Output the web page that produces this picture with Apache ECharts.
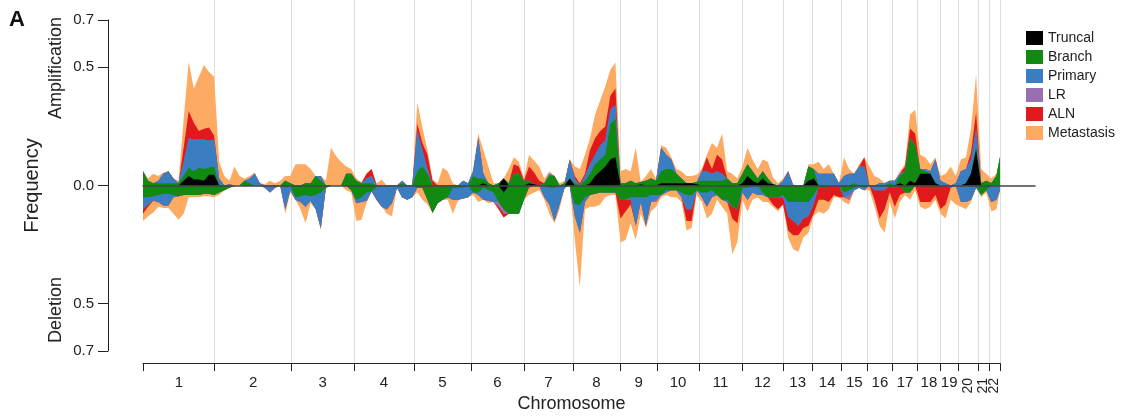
<!DOCTYPE html>
<html>
<head>
<meta charset="utf-8">
<title>Copy number frequency</title>
<script src="https://cdn.jsdelivr.net/npm/echarts@6/dist/echarts.min.js"></script>
<style>
  html, body { margin: 0; padding: 0; background: #fff; }
  #chart { width: 1121px; height: 418px; }
</style>
</head>
<body>
<div id="chart"></div>
<script>
const FONT = '"Liberation Sans", Arial, Helvetica, sans-serif'

// chromosome lengths as drawn (Mb), chr1..chr22
const chromNames = ['1', '2', '3', '4', '5', '6', '7', '8', '9', '10', '11',
  '12', '13', '14', '15', '16', '17', '18', '19', '20', '21', '22']
const chromLen = [240, 257, 209, 201, 190, 178, 164, 157, 125, 139, 145,
  136, 100, 97, 85, 86, 82, 78, 58, 67, 37, 37]
const binStep = 17 // Mb between samples
const yTicks = [-0.7, -0.5, 0, 0.5, 0.7]

// amplification frequency per sample, one layer per category
const truncalAmp = [
  0, 0, 0, 0, 0, 0, 0, 0, 0.02, 0.04,
  0.025, 0.025, 0.02, 0.045, 0.045, 0, 0, 0, 0, 0,
  0, 0, 0, 0, 0, 0, 0, 0, 0, 0,
  0, 0, 0, 0, 0, 0, 0, 0, 0, 0,
  0, 0, 0, 0, 0, 0, 0, 0, 0, 0,
  0, 0, 0, 0, 0, 0, 0, 0, 0, 0,
  0, 0, 0, 0, 0, 0, 0, 0.01, 0, 0,
  0, 0.03, 0, 0, 0, 0, 0.01, 0.005, 0, 0,
  0, 0, 0, 0, 0.03, 0, 0, 0, 0.01, 0.04,
  0.06, 0.08, 0.11, 0.12, 0, 0, 0, 0, 0.005, 0,
  0, 0, 0.01, 0.01, 0.01, 0.01, 0.01, 0.01, 0.01, 0.005,
  0, 0, 0, 0, 0, 0, 0, 0, 0.01, 0.04,
  0.02, 0.01, 0.03, 0.01, 0.005, 0, 0, 0, 0, 0,
  0, 0.02, 0.03, 0, 0, 0, 0, 0, 0, 0,
  0, 0, 0, 0, 0, 0, 0, 0, 0, 0.01,
  0, 0.02, 0.01, 0.05, 0.05, 0.05, 0.01, 0, 0, 0,
  0, 0, 0.01, 0.05, 0.15, 0, 0, 0, 0, 0
]
const branchAmp = [
  0.06, 0.02, 0.01, 0.01, 0.01, 0.01, 0.01, 0.01, 0.02, 0.035,
  0.035, 0.05, 0.05, 0.03, 0.035, 0, 0, 0, 0, 0,
  0.02, 0.01, 0, 0, 0, 0, 0, 0, 0.02, 0.01,
  0, 0, 0.01, 0.01, 0.04, 0.02, 0, 0, 0, 0,
  0.05, 0.05, 0.02, 0.01, 0.01, 0.01, 0, 0, 0, 0,
  0, 0.01, 0, 0, 0.06, 0.08, 0.05, 0, 0, 0,
  0, 0, 0, 0, 0, 0.04, 0.03, 0.02, 0.01, 0,
  0.01, 0, 0.01, 0.05, 0.05, 0.02, 0.01, 0, 0, 0.01,
  0.04, 0.04, 0, 0.01, 0, 0.01, 0, 0.02, 0.04, 0.05,
  0.05, 0.05, 0.15, 0.16, 0.01, 0.01, 0.02, 0.01, 0.01, 0.02,
  0.03, 0.02, 0.05, 0.06, 0.06, 0.04, 0.02, 0, 0, 0.01,
  0.02, 0.02, 0.02, 0.02, 0.02, 0.03, 0.01, 0.01, 0.04, 0.05,
  0.04, 0.02, 0.03, 0.02, 0, 0, 0, 0, 0, 0,
  0, 0.06, 0.04, 0, 0, 0, 0, 0, 0, 0,
  0.01, 0, 0, 0, 0, 0, 0, 0.01, 0, 0.03,
  0.06, 0.18, 0.16, 0.02, 0.01, 0, 0, 0, 0, 0,
  0, 0, 0, 0, 0.01, 0.01, 0.02, 0.01, 0.04, 0.12
]
const primaryAmp = [
  0, 0, 0, 0.01, 0.04, 0.05, 0.02, 0, 0.06, 0.125,
  0.135, 0.12, 0.125, 0.115, 0.115, 0.03, 0, 0.005, 0, 0,
  0, 0.02, 0.05, 0.01, 0, 0, 0, 0, 0, 0,
  0, 0, 0, 0, 0, 0.02, 0, 0, 0, 0,
  0, 0, 0, 0, 0.02, 0.03, 0, 0, 0, 0,
  0, 0.01, 0, 0, 0.17, 0.07, 0.02, 0, 0, 0,
  0, 0, 0, 0.02, 0.01, 0.02, 0.17, 0.02, 0, 0,
  0, 0, 0, 0, 0, 0, 0, 0, 0, 0,
  0.01, 0, 0, 0, 0.08, 0.02, 0, 0.02, 0.04, 0.04,
  0.06, 0.06, 0.06, 0.06, 0, 0, 0, 0, 0, 0,
  0, 0, 0.1, 0.06, 0.04, 0, 0, 0, 0, 0,
  0.04, 0.04, 0.03, 0.04, 0.03, 0, 0, 0, 0, 0,
  0, 0, 0, 0, 0, 0, 0.02, 0.06, 0, 0,
  0, 0, 0, 0.05, 0.05, 0.05, 0.05, 0.01, 0.04, 0.05,
  0.04, 0.08, 0.08, 0, 0, 0.01, 0.01, 0.01, 0.02, 0.01,
  0, 0, 0, 0, 0.01, 0.01, 0.1, 0.02, 0.01, 0,
  0.01, 0.06, 0.06, 0.06, 0.08, 0, 0, 0, 0, 0
]
const lrAmp = [
  0, 0, 0, 0, 0, 0, 0, 0, 0, 0,
  0, 0, 0, 0, 0, 0, 0, 0, 0, 0,
  0, 0, 0, 0, 0, 0, 0, 0, 0, 0,
  0, 0, 0, 0, 0, 0, 0, 0, 0, 0,
  0, 0, 0, 0, 0, 0, 0, 0, 0, 0,
  0, 0, 0, 0, 0, 0, 0, 0, 0, 0,
  0, 0, 0, 0, 0, 0, 0, 0, 0, 0,
  0, 0, 0, 0, 0, 0, 0, 0, 0, 0,
  0, 0, 0, 0, 0, 0, 0, 0, 0, 0,
  0, 0, 0, 0, 0, 0, 0, 0, 0, 0,
  0, 0, 0, 0, 0, 0, 0, 0, 0, 0,
  0, 0, 0, 0, 0, 0, 0, 0, 0, 0,
  0, 0, 0, 0, 0, 0, 0, 0, 0, 0,
  0, 0, 0, 0, 0, 0, 0, 0, 0, 0,
  0, 0, 0, 0, 0, 0, 0, 0, 0, 0,
  0, 0, 0, 0, 0, 0, 0, 0, 0, 0,
  0, 0, 0, 0, 0, 0, 0, 0, 0, 0
]
const alnAmp = [
  0, 0, 0, 0, 0, 0, 0, 0, 0.06, 0.115,
  0.07, 0.035, 0.045, 0.055, 0.015, 0, 0, 0, 0, 0,
  0, 0, 0, 0, 0, 0, 0, 0, 0, 0,
  0, 0, 0, 0, 0, 0, 0, 0, 0, 0,
  0, 0, 0, 0, 0.02, 0.03, 0, 0, 0, 0,
  0, 0, 0, 0, 0.03, 0.03, 0.06, 0.02, 0, 0,
  0, 0, 0, 0, 0, 0, 0, 0, 0, 0,
  0, 0, 0, 0.04, 0.03, 0, 0.06, 0.05, 0.02, 0,
  0, 0, 0, 0, 0, 0.01, 0.01, 0.01, 0.06, 0.07,
  0.06, 0.06, 0.06, 0.07, 0, 0, 0, 0, 0, 0,
  0, 0, 0, 0, 0, 0, 0, 0, 0, 0,
  0, 0.06, 0.02, 0.07, 0.06, 0, 0, 0, 0, 0,
  0, 0, 0, 0, 0, 0, 0, 0, 0, 0,
  0, 0, 0, 0, 0, 0, 0, 0, 0, 0,
  0, 0, 0.04, 0, 0, 0, 0, 0, 0, 0,
  0.02, 0.04, 0.05, 0, 0, 0, 0, 0, 0, 0,
  0, 0, 0, 0.03, 0.07, 0, 0, 0, 0, 0
]
const metAmp = [
  0, 0.01, 0.04, 0.02, 0.005, 0, 0, 0.01, 0.12, 0.21,
  0.145, 0.23, 0.27, 0.235, 0.25, 0.07, 0.04, 0.015, 0.08, 0.04,
  0.01, 0.01, 0.005, 0, 0.005, 0.02, 0.01, 0.02, 0.02, 0.03,
  0.09, 0.09, 0.08, 0.06, 0, 0, 0.02, 0.16, 0.125, 0.1,
  0.03, 0.02, 0.01, 0.005, 0, 0, 0.01, 0.025, 0, 0,
  0, 0, 0, 0, 0.09, 0.065, 0.02, 0.005, 0.01, 0.075,
  0.06, 0.01, 0, 0, 0, 0.01, 0.02, 0.1, 0.07, 0.01,
  0, 0, 0.06, 0.03, 0.02, 0.01, 0.05, 0.05, 0.06, 0.02,
  0.01, 0, 0.01, 0.01, 0, 0.04, 0.06, 0.08, 0.05, 0.1,
  0.13, 0.17, 0.11, 0.11, 0.05, 0.06, 0.04, 0.15, 0, 0.02,
  0.04, 0.01, 0.01, 0.03, 0.01, 0.02, 0.03, 0.03, 0.03, 0.03,
  0.01, 0.01, 0.11, 0.03, 0.11, 0.03, 0.04, 0.02, 0.03, 0.07,
  0.05, 0.04, 0.05, 0.07, 0.03, 0.01, 0.01, 0, 0.005, 0,
  0, 0.01, 0.02, 0.05, 0.02, 0.04, 0, 0, 0.08, 0.02,
  0, 0.01, 0, 0.08, 0.04, 0.02, 0, 0, 0, 0.01,
  0.01, 0.06, 0.1, 0.06, 0.05, 0.03, 0.01, 0.02, 0.04, 0.08,
  0.03, 0.05, 0.05, 0.1, 0.16, 0.06, 0.03, 0.02, 0.01, 0
]

// deletion frequency per sample (negative = drawn downwards)
const truncalDel = [
  0, 0, 0, 0, 0, 0, 0, 0, 0, 0,
  0, 0, 0, 0, 0, 0, 0, 0, 0, 0,
  0, 0, 0, 0, 0, 0, 0, 0, 0, 0,
  0, 0, 0, 0, 0, 0, 0, 0, 0, 0,
  0, 0, 0, 0, 0, 0, 0, 0, 0, 0,
  0, 0, 0, 0, 0, 0, 0, 0, 0, 0,
  0, 0, 0, 0, 0, 0, 0, 0, 0, 0,
  0, -0.03, 0, 0, 0, 0, 0, 0, 0, 0,
  0, 0, 0, 0, 0, 0, 0, 0, 0, 0,
  0, 0, 0, 0, 0, 0, 0, 0, 0, 0,
  0, 0, 0, 0, 0, 0, 0, 0, 0, 0,
  0, 0, 0, 0, 0, 0, 0, 0, 0, 0,
  0, 0, 0, 0, 0, 0, 0, 0, 0, 0,
  0, 0, 0, 0, 0, 0, 0, 0, 0, 0,
  0, 0, 0, 0, 0, 0, 0, 0, 0, 0,
  0, 0, 0, 0, 0, 0, 0, 0, 0, 0,
  0, 0, 0, 0, 0, 0, 0, 0, 0, 0
]
const branchDel = [
  -0.05, -0.05, -0.045, -0.04, -0.035, -0.035, -0.04, -0.045, -0.04, -0.04,
  -0.04, -0.04, -0.035, -0.035, -0.04, -0.03, -0.02, -0.01, 0, 0,
  0, 0, 0, 0, 0, 0, 0, 0, -0.01, 0,
  -0.05, -0.045, -0.04, -0.045, -0.04, -0.03, -0.01, 0, 0, 0,
  0, -0.02, -0.06, -0.05, -0.03, -0.025, -0.005, 0, 0, 0,
  0, 0, 0, 0, -0.01, -0.01, -0.06, -0.115, -0.075, -0.06,
  -0.05, -0.01, -0.01, -0.01, 0, -0.03, -0.03, -0.01, -0.02, -0.03,
  -0.07, -0.07, -0.12, -0.12, -0.12, -0.06, 0, 0, 0, 0,
  -0.01, -0.01, 0, 0, 0, -0.08, -0.08, -0.05, -0.04, -0.035,
  -0.03, -0.03, -0.03, -0.03, -0.06, -0.06, -0.05, -0.05, -0.05, -0.05,
  -0.04, -0.04, -0.04, -0.02, -0.02, -0.02, -0.03, -0.04, -0.04, -0.02,
  -0.03, -0.03, -0.02, -0.04, -0.06, -0.06, -0.09, -0.1, -0.01, -0.01,
  0, 0, -0.03, -0.05, -0.05, -0.05, -0.04, -0.07, -0.07, -0.07,
  -0.07, -0.07, -0.04, -0.01, -0.01, 0, 0, 0, -0.03, -0.02,
  -0.01, 0, -0.01, 0, 0, 0, 0, 0, -0.01, 0,
  -0.03, -0.03, 0, 0, 0, 0, 0, 0, 0, 0,
  0, 0, 0, 0, 0, -0.04, -0.02, 0, 0, 0
]
const primaryDel = [
  -0.05, -0.03, -0.02, -0.03, -0.05, -0.05, -0.01, 0, 0, 0,
  0, 0, 0, 0, 0, 0, 0, 0, 0, 0,
  0, 0, 0, 0, -0.01, -0.03, -0.01, 0, -0.09, -0.02,
  -0.01, -0.025, -0.05, -0.02, -0.06, -0.15, 0, 0, 0, 0,
  0, 0, -0.015, -0.02, -0.035, 0, -0.055, -0.09, -0.1, -0.075,
  -0.01, -0.05, -0.06, -0.05, 0, 0, 0, 0, 0, 0,
  0, -0.05, -0.05, -0.045, -0.05, 0, -0.01, -0.05, -0.045, -0.04,
  0, 0, 0, 0, 0, 0, 0, 0, 0, -0.05,
  -0.07, -0.14, -0.08, -0.01, 0, -0.05, -0.12, -0.02, 0, 0,
  0, 0, 0, 0, 0, 0, -0.01, -0.12, -0.02, -0.12,
  -0.03, -0.02, 0, -0.01, 0, 0, -0.02, -0.06, -0.06, 0,
  -0.02, -0.06, -0.03, 0, 0, -0.01, 0, 0, -0.02, -0.05,
  -0.03, -0.04, -0.01, 0, 0, 0, -0.01, -0.06, -0.08, -0.1,
  -0.07, -0.06, -0.04, 0, 0, 0, 0, 0, -0.02, -0.02,
  -0.01, -0.01, -0.01, 0, -0.02, -0.02, -0.02, 0, 0, 0,
  0, 0, 0, 0, 0, 0, 0, 0, 0, -0.01,
  0, -0.07, -0.07, -0.06, -0.01, 0, 0, -0.07, -0.06, -0.02
]
const lrDel = [
  0, 0, 0, 0, 0, 0, 0, 0, 0, 0,
  0, 0, 0, 0, 0, 0, 0, 0, 0, 0,
  0, 0, 0, 0, 0, 0, 0, 0, 0, 0,
  0, 0, 0, 0, 0, 0, 0, 0, 0, 0,
  0, 0, 0, 0, 0, 0, 0, 0, 0, 0,
  0, 0, 0, 0, 0, 0, 0, 0, 0, 0,
  0, 0, 0, 0, 0, 0, 0, 0, 0, 0,
  -0.02, -0.02, 0, 0, 0, 0, 0, 0, 0, 0,
  0, 0, 0, 0, 0, 0, 0, 0, 0, 0,
  0, 0, 0, 0, 0, 0, 0, 0, 0, 0,
  0, -0.01, 0, 0, 0, 0, 0, 0, 0, 0,
  0, 0, 0, 0, 0, 0, 0, 0, 0, 0,
  0, 0, 0, 0, 0, 0, 0, 0, 0, 0,
  0, 0, 0, 0, 0, 0, 0, 0, 0, -0.02,
  0, 0, 0, 0, 0, 0, 0, 0, 0, 0,
  0, 0, 0, 0, 0, 0, 0, 0, 0, 0,
  0, 0, 0, 0, 0, 0, 0, 0, 0, 0
]
const alnDel = [
  -0.02, -0.01, 0, 0, 0, 0, 0, 0, 0, 0,
  0, 0, 0, 0, 0, 0, 0, 0, 0, 0,
  0, 0, 0, 0, 0, 0, 0, 0, 0, 0,
  0, 0, 0, 0, 0, 0, 0, 0, 0, 0,
  0, 0, 0, 0, 0, 0, 0, 0, 0, 0,
  0, 0, 0, 0, 0, 0, 0, 0, 0, 0,
  0, 0, 0, 0, 0, 0, 0, 0, 0, 0,
  -0.01, -0.015, 0, 0, 0, 0, -0.01, 0, 0, 0,
  0, 0, 0, 0, 0, 0, 0, 0, 0, 0,
  0, 0, 0, 0, -0.08, -0.05, -0.02, 0, 0, 0,
  0, 0, 0, 0, 0, 0, 0, -0.05, -0.05, 0,
  0, 0, 0, 0, 0, 0, -0.05, -0.06, 0, 0,
  0, 0, 0, 0, -0.03, -0.05, -0.03, -0.06, -0.06, -0.04,
  -0.04, -0.04, -0.04, -0.05, -0.05, -0.07, -0.04, -0.05, 0, 0,
  0, 0, 0, 0, -0.04, -0.12, -0.08, -0.03, -0.08, -0.04,
  0, 0, 0, -0.07, -0.07, -0.07, -0.04, -0.1, -0.08, 0,
  0, 0, 0, 0, 0, 0, 0, 0, 0, 0
]
const metDel = [
  -0.03, -0.04, -0.05, -0.02, -0.01, -0.01, -0.07, -0.1, -0.08, -0.01,
  -0.01, -0.01, -0.01, -0.01, -0.01, -0.01, 0, 0, -0.005, 0,
  0, 0, 0, 0, 0, 0, 0, 0, -0.02, -0.01,
  0, -0.03, -0.07, -0.01, 0, -0.01, 0, 0, 0, 0,
  -0.02, -0.01, -0.075, -0.075, -0.01, 0, -0.005, 0, -0.02, -0.055,
  0, 0, 0, 0, -0.02, -0.05, -0.02, 0, 0, 0,
  -0.01, -0.06, -0.005, 0, 0, -0.01, -0.03, 0, -0.01, 0,
  0, 0, 0, 0, 0, 0, -0.03, -0.03, -0.02, -0.01,
  -0.04, -0.01, -0.02, 0, 0, -0.1, -0.23, -0.03, -0.05, -0.055,
  -0.05, -0.02, -0.01, -0.01, -0.1, -0.12, -0.08, -0.06, -0.05, -0.01,
  -0.04, -0.02, -0.01, -0.01, -0.03, -0.03, -0.02, -0.04, -0.03, -0.02,
  -0.02, -0.05, -0.07, -0.02, -0.03, -0.05, -0.15, -0.08, -0.03, -0.05,
  -0.03, -0.01, -0.03, -0.02, -0.01, -0.01, 0, -0.03, -0.06, -0.07,
  -0.04, -0.03, -0.01, -0.05, -0.06, -0.03, -0.01, 0, -0.02, -0.02,
  0, 0, 0, -0.02, -0.03, -0.03, -0.1, -0.04, -0.05, -0.03,
  -0.01, -0.03, -0.02, -0.02, -0.03, -0.02, -0.02, -0.02, -0.06, -0.05,
  -0.08, -0.02, -0.03, -0.01, 0, -0.01, -0.01, -0.04, -0.04, 0
]

// layout (pixels)
const plotLeft = 143
const zeroLineRight = 86   // zero line runs past chr22
const chromAxisRight = 121

// derived genome coordinates
const chromStarts = []
let acc = 0
chromLen.forEach(len => { chromStarts.push(acc); acc += len })
const genomeEnd = acc
const boundaries = chromStarts.concat([genomeEnd])
const centers = chromStarts.map((s, i) => s + chromLen[i] / 2)
const positions = truncalAmp.map((_, i) => Math.min(i * binStep, genomeEnd))
const plotEnd = genomeEnd * (1121 - plotLeft - zeroLineRight) / (1121 - plotLeft - chromAxisRight)

function chromLabel(v) {
  const idx = centers.findIndex(c => Math.abs(c - v) < 0.5)
  return idx < 0 ? '' : chromNames[idx]
}

const groups = [
  { name: 'Truncal', color: '#000000', amp: truncalAmp, del: truncalDel },
  { name: 'Branch', color: '#118a11', amp: branchAmp, del: branchDel },
  { name: 'Primary', color: '#3a7dc0', amp: primaryAmp, del: primaryDel },
  { name: 'LR', color: '#9a6fb0', amp: lrAmp, del: lrDel },
  { name: 'ALN', color: '#e2191c', amp: alnAmp, del: alnDel },
  { name: 'Metastasis', color: '#fdab62', amp: metAmp, del: metDel }
]

// running totals so each layer sits on the ones below it
function cumulate(key) {
  const running = positions.map(() => 0)
  return groups.map(g => g[key].map((v, i) => (running[i] += v)))
}
const ampTops = cumulate('amp')
const delTops = cumulate('del')

// outer layers first, so inner layers are painted over them
const series = []
for (let k = groups.length - 1; k >= 0; k--) {
  const g = groups[k];
  [ampTops[k], delTops[k]].forEach(tops => {
    series.push({
      name: g.name,
      type: 'line',
      xAxisIndex: 0,
      yAxisIndex: 0,
      symbol: 'none',
      silent: true,
      data: tops.map((v, i) => [positions[i], v]),
      lineStyle: { width: 0 },
      itemStyle: { color: g.color },
      areaStyle: { color: g.color, opacity: 1, origin: 0 }
    })
  })
}

// small chromosomes get vertical labels, split over two axes so none collide
function rotatedLabelAxis(gridIndex, values) {
  return {
    type: 'value', gridIndex, min: 0, max: genomeEnd,
    axisLine: { show: false }, axisTick: { show: false }, splitLine: { show: false },
    axisLabel: {
      customValues: values, formatter: chromLabel, rotate: 90, hideOverlap: false,
      showMinLabel: true, showMaxLabel: true,
      fontSize: 14, color: '#222', margin: 12, fontFamily: FONT
    }
  }
}

const chromGrid = { left: plotLeft, right: chromAxisRight, top: 0, bottom: 52 }

const chart = echarts.init(document.getElementById('chart'))
chart.setOption({
  animation: false,
  backgroundColor: '#fff',
  textStyle: { fontFamily: FONT },
  title: {
    text: 'A', left: 9, top: 9, padding: 0,
    textStyle: { fontSize: 22, fontWeight: 900, color: '#111', fontFamily: FONT }
  },
  legend: {
    orient: 'vertical', left: 1026, top: 31, padding: 0,
    icon: 'rect', itemWidth: 17, itemHeight: 14, itemGap: 5,
    data: groups.map(g => g.name),
    textStyle: { fontSize: 14, color: '#222', fontFamily: FONT }
  },
  graphic: [
    {
      type: 'text', x: 56, y: 68, rotation: Math.PI / 2,
      style: { text: 'Amplification', fontSize: 18, fill: '#222', align: 'center', verticalAlign: 'middle', fontFamily: FONT }
    },
    {
      type: 'text', x: 56, y: 310, rotation: Math.PI / 2,
      style: { text: 'Deletion', fontSize: 18, fill: '#222', align: 'center', verticalAlign: 'middle', fontFamily: FONT }
    }
  ],
  grid: [
    { left: plotLeft, right: zeroLineRight, top: 20, bottom: 67 },
    chromGrid,
    Object.assign({}, chromGrid),
    Object.assign({}, chromGrid)
  ],
  xAxis: [
    {
      type: 'value', gridIndex: 0, min: 0, max: plotEnd, z: 10,
      axisLine: { show: true, onZero: true, lineStyle: { color: '#444', width: 1.5 } },
      axisTick: { show: false }, axisLabel: { show: false }, splitLine: { show: false }
    },
    {
      type: 'value', gridIndex: 1, min: 0, max: genomeEnd,
      axisLine: { show: true, onZero: false, lineStyle: { color: '#222', width: 1 } },
      axisTick: { show: true, length: 8, customValues: boundaries, lineStyle: { color: '#222' } },
      axisLabel: {
        customValues: centers.slice(0, 19), formatter: chromLabel, hideOverlap: false,
        fontSize: 15, color: '#222', margin: 12, fontFamily: FONT
      },
      splitLine: { show: true, showMinLine: false, lineStyle: { color: '#dddddd', width: 1 } },
      name: 'Chromosome', nameLocation: 'middle', nameGap: 31,
      nameTextStyle: { fontSize: 18, color: '#222', fontFamily: FONT }
    },
    rotatedLabelAxis(2, [centers[19], centers[21]]),
    rotatedLabelAxis(3, [centers[20]])
  ],
  yAxis: [
    {
      type: 'value', gridIndex: 0, min: -0.7, max: 0.7, offset: 35,
      axisLine: { show: true, onZero: false, lineStyle: { color: '#222', width: 1 } },
      axisTick: { show: true, length: 10, customValues: yTicks, lineStyle: { color: '#222' } },
      axisLabel: {
        customValues: yTicks, formatter: v => Math.abs(v).toFixed(1),
        fontSize: 15, color: '#222', margin: 14, fontFamily: FONT
      },
      splitLine: { show: false },
      name: 'Frequency', nameLocation: 'middle', nameGap: 66,
      nameTextStyle: { fontSize: 20, color: '#222', fontFamily: FONT }
    },
    { type: 'value', gridIndex: 1, min: 0, max: 1, show: false },
    { type: 'value', gridIndex: 2, min: 0, max: 1, show: false },
    { type: 'value', gridIndex: 3, min: 0, max: 1, show: false }
  ],
  series: series
})
</script>
</body>
</html>
